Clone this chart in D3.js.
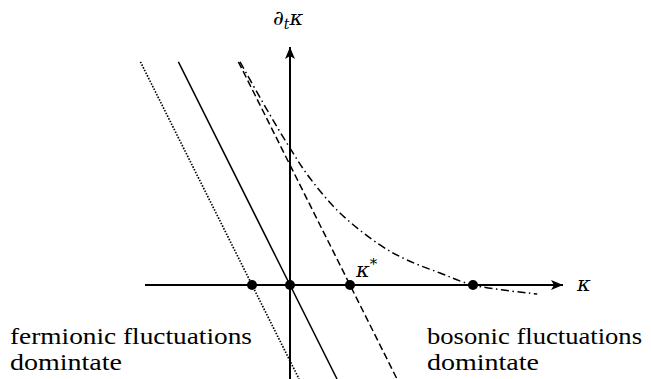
<!DOCTYPE html>
<html>
<head>
<meta charset="utf-8">
<script src="https://cdn.jsdelivr.net/npm/d3@7"></script>
</head>
<body style="margin:0">
<script>
// fixed points on the kappa axis
const roots = [-0.633, 0, 1, 3.05];
// straight flow lines: root and dash style
const lineRoots = [-0.633, 0, 1];
const lineDash = ["1.5,1.5", null, "7,3.5"];
const lineSlope = -2.0;
const lineTop = 3.72;
// dash-dot curve
const curveK = [-0.833, -0.4, 0, 0.333, 0.833, 1.5, 1.95, 2.5, 3.05, 4.12];
const curveV = [3.72, 2.95, 2.28, 1.78, 1.2, 0.667, 0.417, 0.2, 0, -0.15];

const width = 651, height = 379;
const serif = 'Liberation Serif';
const mathFont = 'DejaVu Serif';
const svg = d3.select('body').append('svg')
    .attr('width', width)
    .attr('height', height);

const x = d3.scaleLinear().domain([-2.4167, 4.55]).range([145, 563]);
const y = d3.scaleLinear().domain([-1.567, 3.967]).range([379, 47]);

// arrow marker
svg.append('defs').append('marker')
    .attr('id', 'arrow')
    .attr('viewBox', '0 0 12 10')
    .attr('refX', 12).attr('refY', 5)
    .attr('markerWidth', 12).attr('markerHeight', 10)
    .attr('markerUnits', 'userSpaceOnUse')
    .attr('orient', 'auto')
    .append('path')
    .attr('d', 'M0,0 L12,5 L0,10 L3,5 Z')
    .attr('fill', '#000');

// axes
svg.append('line')
    .attr('x1', x(-2.4167)).attr('y1', y(0))
    .attr('x2', x(4.55)).attr('y2', y(0))
    .attr('stroke', '#000').attr('stroke-width', 2)
    .attr('marker-end', 'url(#arrow)');
svg.append('line')
    .attr('x1', x(0)).attr('y1', y(-1.567))
    .attr('x2', x(0)).attr('y2', y(3.967))
    .attr('stroke', '#000').attr('stroke-width', 2)
    .attr('marker-end', 'url(#arrow)');

// straight lines
const yBottom = -1.567;
lineRoots.forEach(function (r, i) {
    const k0 = r + lineTop / lineSlope;
    const k1 = r + yBottom / lineSlope;
    const l = svg.append('line')
        .attr('x1', x(k0)).attr('y1', y(lineTop))
        .attr('x2', x(k1)).attr('y2', y(yBottom))
        .attr('stroke', '#000')
        .attr('stroke-width', i === 0 ? 1.7 : 1.5);
    if (lineDash[i]) l.attr('stroke-dasharray', lineDash[i]);
});

// dash-dot curve
const pts = curveK.map((k, i) => [k, curveV[i]]);
svg.append('path')
    .datum(pts)
    .attr('d', d3.line().x(d => x(d[0])).y(d => y(d[1])).curve(d3.curveCatmullRom))
    .attr('fill', 'none')
    .attr('stroke', '#000')
    .attr('stroke-width', 1.5)
    .attr('stroke-dasharray', '8,3.5,1.5,3.5');

// fixed points
svg.selectAll('circle.root')
    .data(roots)
    .join('circle')
    .attr('class', 'root')
    .attr('cx', d => x(d))
    .attr('cy', y(0))
    .attr('r', 5)
    .attr('fill', '#000');

// labels
const yl = svg.append('text')
    .attr('x', 273).attr('y', 25)
    .attr('font-family', mathFont)
    .attr('font-size', 21);
yl.append('tspan').text('∂').attr('font-style', 'italic');
yl.append('tspan').text('t').attr('font-style', 'italic').attr('font-size', 14).attr('dy', 4);
yl.append('tspan').text('κ').attr('font-style', 'italic').attr('dy', -4);

svg.append('text')
    .attr('x', 577).attr('y', 291)
    .attr('font-family', mathFont)
    .attr('font-size', 21).attr('font-style', 'italic')
    .text('κ');

const ks = svg.append('text')
    .attr('x', 356).attr('y', 277)
    .attr('font-family', mathFont)
    .attr('font-size', 21);
ks.append('tspan').text('κ').attr('font-style', 'italic');
ks.append('tspan').text('*').attr('font-size', 15).attr('dy', -8);

// annotations, widths
const notes = [
    { x: 10, lines: ['fermionic fluctuations', 'domintate'], w: [242, 112] },
    { x: 427, lines: ['bosonic fluctuations', 'domintate'], w: [215, 112] }
];
notes.forEach(function (n) {
    n.lines.forEach(function (t, i) {
        svg.append('text')
            .attr('x', n.x).attr('y', 344 + i * 26)
            .attr('font-family', serif)
            .attr('font-size', 23)
            .attr('textLength', n.w[i])
            .attr('lengthAdjust', 'spacingAndGlyphs')
            .text(t);
    });
});
</script>
</body>
</html>
